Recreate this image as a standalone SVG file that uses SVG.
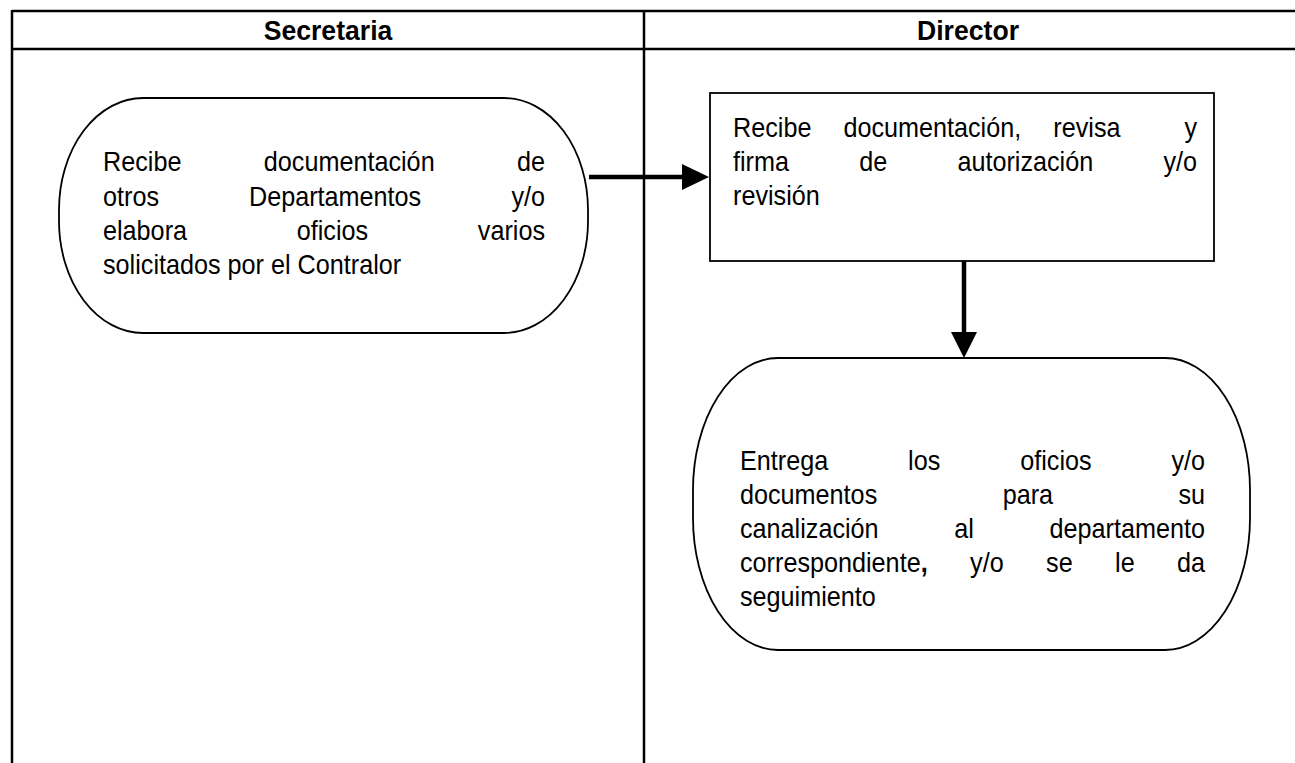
<svg xmlns="http://www.w3.org/2000/svg" width="1295" height="763" viewBox="0 0 1295 763">
<style>
.grid{stroke:#000;stroke-width:2.5;fill:none}
.shape{stroke:#000;stroke-width:1.8;fill:#fff}
.t{font-family:"Liberation Sans",Arial,sans-serif;font-size:28px;fill:#000}
.h{font-family:"Liberation Sans",Arial,sans-serif;font-size:28px;font-weight:bold;fill:#000;text-anchor:middle}
.e{text-anchor:end}
.conn{stroke:#000;stroke-width:4.5;fill:none}
</style>
<rect width="1295" height="763" fill="#fff"/>
<g id="table">
<line class="grid" x1="12" y1="11" x2="1295" y2="11"/>
<line class="grid" x1="12" y1="49" x2="1295" y2="49"/>
<line class="grid" x1="12" y1="10" x2="12" y2="763"/>
<line class="grid" x1="644" y1="10" x2="644" y2="763"/>
<text class="h" transform="translate(328,40) scale(0.95,1)">Secretaria</text>
<text class="h" transform="translate(968,40) scale(0.95,1)">Director</text>
</g>
<g id="connectors">
<line class="conn" x1="589" y1="177" x2="684" y2="177"/>
<polygon points="682,164 709,177 682,190" fill="#000"/>
<line class="conn" x1="964" y1="261" x2="964" y2="334"/>
<polygon points="951,332 977,332 964,358" fill="#000"/>
</g>
<g id="node-secretaria-recibe">
<rect class="shape" x="59" y="98" width="529" height="235" rx="84" ry="112"/>
<text class="t" transform="translate(103,171) scale(0.9,1)">Recibe</text>
<text class="t" transform="translate(263.8,171) scale(0.9,1)">documentación</text>
<text class="t e" transform="translate(545,171) scale(0.9,1)">de</text>
<text class="t" transform="translate(103,206) scale(0.9,1)">otros</text>
<text class="t" transform="translate(249,206) scale(0.9,1)">Departamentos</text>
<text class="t e" transform="translate(545,206) scale(0.9,1)">y/o</text>
<text class="t" transform="translate(103,240) scale(0.9,1)">elabora</text>
<text class="t" transform="translate(296.7,240) scale(0.9,1)">oficios</text>
<text class="t e" transform="translate(545,240) scale(0.9,1)">varios</text>
<text class="t" transform="translate(103,274) scale(0.9,1)">solicitados por el Contralor</text>
</g>
<g id="node-director-revisa">
<rect class="shape" x="710" y="93" width="504" height="168"/>
<text class="t" transform="translate(733,137) scale(0.9,1)">Recibe</text>
<text class="t" transform="translate(843.4,137) scale(0.9,1)">documentación,</text>
<text class="t" transform="translate(1053.3,137) scale(0.9,1)">revisa</text>
<text class="t e" transform="translate(1197,137) scale(0.9,1)">y</text>
<text class="t" transform="translate(733,171) scale(0.9,1)">firma</text>
<text class="t" transform="translate(859.2,171) scale(0.9,1)">de</text>
<text class="t" transform="translate(957.4,171) scale(0.9,1)">autorización</text>
<text class="t e" transform="translate(1197,171) scale(0.9,1)">y/o</text>
<text class="t" transform="translate(733,205) scale(0.9,1)">revisión</text>
</g>
<g id="node-director-entrega">
<rect class="shape" x="693" y="358" width="557" height="292" rx="85" ry="132"/>
<text class="t" transform="translate(740,470) scale(0.9,1)">Entrega</text>
<text class="t" transform="translate(908.1,470) scale(0.9,1)">los</text>
<text class="t" transform="translate(1020.2,470) scale(0.9,1)">oficios</text>
<text class="t e" transform="translate(1205,470) scale(0.9,1)">y/o</text>
<text class="t" transform="translate(740,504) scale(0.9,1)">documentos</text>
<text class="t" transform="translate(1002.7,504) scale(0.9,1)">para</text>
<text class="t e" transform="translate(1205,504) scale(0.9,1)">su</text>
<text class="t" transform="translate(740,538) scale(0.9,1)">canalización</text>
<text class="t" transform="translate(954.3,538) scale(0.9,1)">al</text>
<text class="t e" transform="translate(1205,538) scale(0.9,1)">departamento</text>
<text class="t" transform="translate(740,572) scale(0.9,1)">correspondiente<tspan font-weight="bold">,</tspan></text>
<text class="t" transform="translate(970.1,572) scale(0.9,1)">y/o</text>
<text class="t" transform="translate(1046.1,572) scale(0.9,1)">se</text>
<text class="t" transform="translate(1115.1,572) scale(0.9,1)">le</text>
<text class="t e" transform="translate(1205,572) scale(0.9,1)">da</text>
<text class="t" transform="translate(740,606) scale(0.9,1)">seguimiento</text>
</g>
</svg>
